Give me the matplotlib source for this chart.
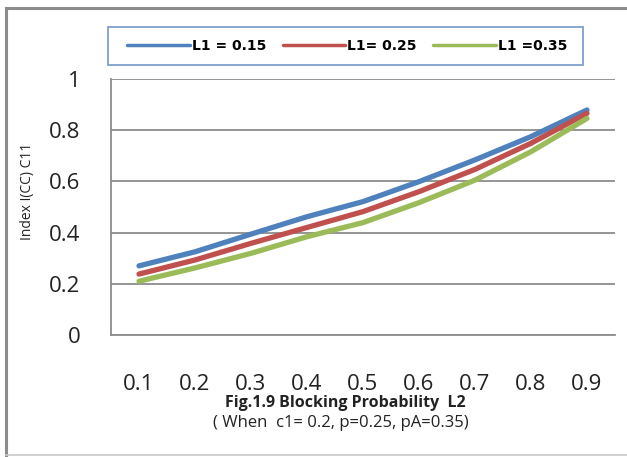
import matplotlib
matplotlib.use("Agg")
import matplotlib.pyplot as plt
from matplotlib.lines import Line2D
from matplotlib.patches import Rectangle

# Blocking probability L2 (category axis)
l2_labels = ["0.1", "0.2", "0.3", "0.4", "0.5", "0.6", "0.7", "0.8", "0.9"]

# Index I(CC) C11 for three values of L1
c11_l1_015 = [0.27, 0.325, 0.394, 0.462, 0.521, 0.599, 0.684, 0.775, 0.879]
c11_l1_025 = [0.238, 0.293, 0.358, 0.420, 0.482, 0.560, 0.647, 0.749, 0.866]
c11_l1_035 = [0.21, 0.262, 0.319, 0.384, 0.439, 0.517, 0.605, 0.716, 0.846]

series_names = ["L1 = 0.15", "L1= 0.25", "L1 =0.35"]
series_colors = ["#4F81BD", "#C0504D", "#9BBB59"]

W, H = 627, 457
fig = plt.figure(figsize=(W / 100, H / 100), dpi=100)
fig.patch.set_facecolor("white")

# outer frame lines
fig.add_artist(Line2D([6 / W, 6 / W], [1 - 8 / H, 1 - 455 / H], color="#8c8c8c", lw=2.2,
                      transform=fig.transFigure))
fig.add_artist(Line2D([6 / W, 1.0], [1 - 8 / H, 1 - 8 / H], color="#8c8c8c", lw=2.2,
                      transform=fig.transFigure))
fig.add_artist(Line2D([6 / W, 1.0], [1 - 455 / H, 1 - 455 / H], color="#c8c8c8", lw=1.2,
                      transform=fig.transFigure))

ax = fig.add_axes([111 / W, (H - 335) / H, 504 / W, 256 / H])

for vals, name, col in zip([c11_l1_015, c11_l1_025, c11_l1_035], series_names, series_colors):
    ax.plot(l2_labels, vals, color=col, lw=3.8, solid_capstyle="round", label=name, zorder=3)

ax.set_xlim(-0.5, len(l2_labels) - 0.5)
ax.set_ylim(0, 1)
ax.set_yticks([0, 0.2, 0.4, 0.6, 0.8, 1.0])
ax.set_yticklabels(["0", "0.2", "0.4", "0.6", "0.8", "1"])
ax.yaxis.grid(True, color="#8c8c8c", lw=1.3)
ax.set_axisbelow(True)
for s in ["top", "right"]:
    ax.spines[s].set_visible(False)
for s in ["left", "bottom"]:
    ax.spines[s].set_color("#8c8c8c")
    ax.spines[s].set_linewidth(1.3)
ax.tick_params(axis="both", length=0, labelsize=16, colors="#222222")
ax.tick_params(axis="y", pad=22)
ax.tick_params(axis="x", pad=28)
for lab in ax.get_xticklabels() + ax.get_yticklabels():
    lab.set_fontfamily("Open Sans")

fig.text(28 / W, 1 - 191 / H, "Index I(CC) C11", rotation=90, ha="center", va="center",
         fontsize=10, family="Open Sans", color="#222222")
fig.text(345 / W, 1 - 403 / H, "Fig.1.9 Blocking Probability  L2", ha="center", va="center",
         fontsize=11.5, fontweight="bold", family="Open Sans", color="#222222")
fig.text(341 / W, 1 - 423 / H, "( When  c1= 0.2, p=0.25, pA=0.35)", ha="center", va="center",
         fontsize=12, family="Open Sans", color="#222222")

# legend box
fig.add_artist(Rectangle((108 / W, 1 - 65 / H), 475 / W, 38 / H, transform=fig.transFigure,
                         facecolor="white", edgecolor="#7f9fcf", lw=1.3, zorder=1))
leg = fig.legend(loc="center left", bbox_to_anchor=(127 / W, 1 - 46 / H),
                 ncol=3, frameon=False, handlelength=4.5, borderpad=0,
                 handletextpad=0.15, borderaxespad=0, columnspacing=1.2,
                 prop={"family": "DejaVu Sans", "weight": "bold", "size": 10})
leg.set_zorder(2)
for line in leg.get_lines():
    line.set_linewidth(2.5)

fig.savefig("out.png", dpi=100)
